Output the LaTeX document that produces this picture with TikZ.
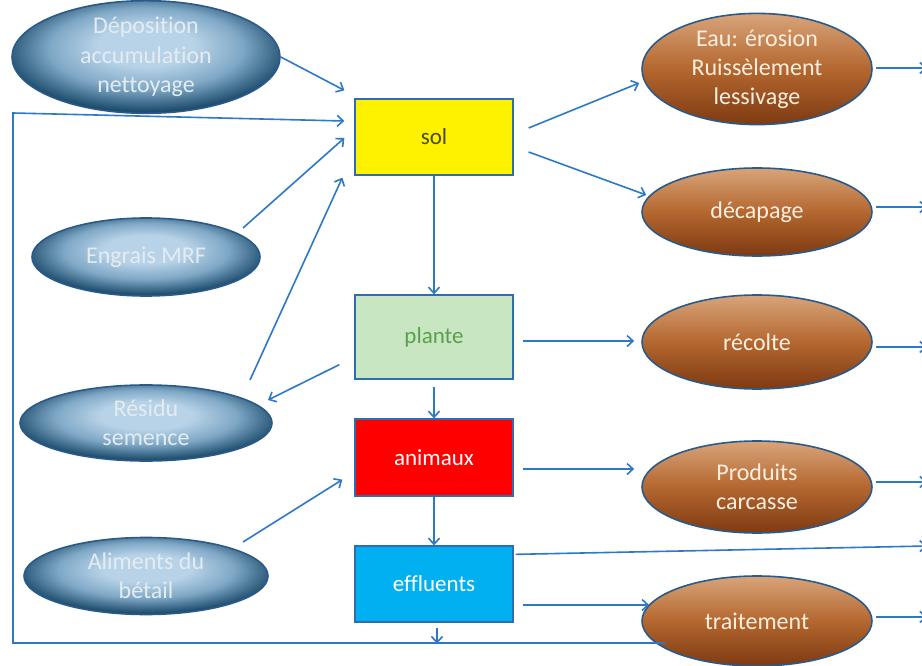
\documentclass[tikz,border=0pt]{standalone}
\usepackage{fontspec}
\setmainfont{Carlito}[Ligatures={NoCommon}]
\usetikzlibrary{shapes.geometric,arrows.meta,calc}
\definecolor{conn}{HTML}{2E78C8}
\definecolor{boxb}{HTML}{2F6DB0}
\definecolor{ellb}{HTML}{2A5A8A}
\definecolor{bluein}{HTML}{B8D3E8}
\definecolor{bluemid}{HTML}{7FA8C6}
\definecolor{blueout}{HTML}{1B4A6A}
\definecolor{bluetext}{HTML}{E4ECF2}
\definecolor{brtop}{HTML}{D8A47A}
\definecolor{brmid}{HTML}{B4672F}
\definecolor{brbot}{HTML}{7E3A12}
\definecolor{browntext}{HTML}{FBEFE2}
\definecolor{soltext}{HTML}{4A4A00}
\definecolor{plantefill}{HTML}{C8E6C2}
\definecolor{plantetext}{HTML}{5AA04A}
\definecolor{efffill}{HTML}{00B0F0}
\pgfdeclareradialshading{blueglow}{\pgfpoint{0bp}{6bp}}{%
  color(0bp)=(bluein); color(9bp)=(bluein); color(18bp)=(bluemid); color(27bp)=(blueout); color(50bp)=(blueout)}
\tikzset{
  arr/.style={draw=conn, line width=1.6pt, -{Straight Barb[length=6pt,width=11pt]}},
  box/.style={draw=boxb, line width=1.3pt, minimum width=158pt, minimum height=76pt, inner sep=0pt, font=\fontsize{23}{29}\selectfont},
  blueell/.style={ellipse, draw=ellb, line width=1.6pt, inner sep=0pt, shading=blueglow, text=bluetext, align=center, font=\fontsize{24}{29.5}\selectfont},
  brownell/.style={ellipse, draw=ellb, line width=1.6pt, inner sep=0pt, top color=brtop, bottom color=brbot, middle color=brmid, text=browntext, align=center, font=\fontsize{24}{29}\selectfont},
}
\begin{document}
\begin{tikzpicture}[x=1pt,y=-1pt]
\path[use as bounding box] (0,0) rectangle (922,666);
\clip (0,0) rectangle (922,666);
\fill[white] (0,0) rectangle (922,666);
% boxes
\node[box, fill=yellow, text=soltext] (sol) at (434,137) {sol};
\node[box, fill=plantefill, text=plantetext, minimum height=84pt] (plante) at (434,337) {plante};
\node[box, fill=red, text=white, minimum height=77pt] (anim) at (434,457.5) {animaux};
\node[box, fill=efffill, text=white] (eff) at (434,584) {effluents};
% left ellipses
\node[blueell, minimum width=268pt, minimum height=84pt] (dep) at (146,57) {Déposition\\accumulation\\nettoyage};
\node[blueell, minimum width=228pt, minimum height=78pt] (engrais) at (146,257) {Engrais MRF};
\node[blueell, minimum width=252pt, minimum height=76pt] (residu) at (146,423) {Résidu\\semence};
\node[blueell, minimum width=244pt, minimum height=77pt] (alim) at (146,576) {Aliments du\\bétail};
% right ellipses
\node[brownell, minimum width=230pt, minimum height=94pt] (eau) at (757,69) {Eau: érosion\\Ruissèlement\\lessivage};
\node[brownell, minimum width=230pt, minimum height=88pt] (dec) at (757,212) {décapage};
\node[brownell, minimum width=230pt, minimum height=94pt] (rec) at (757,342) {récolte};
\node[brownell, minimum width=230pt, minimum height=92pt] (prod) at (757,487) {Produits\\carcasse};
\node[brownell, minimum width=230pt, minimum height=90pt] (trait) at (757,621) {traitement};
% free ends
\coordinate (lpA) at ($(trait.center)+(-92,22)$);
\coordinate (lpB) at (13,643);
\coordinate (lpC) at (13,113);
\coordinate (e1) at (927,68);
\coordinate (e2) at (927,207);
\coordinate (e3) at (927,347);
\coordinate (e4) at (927,482);
\coordinate (e5) at (927,546);
\coordinate (e6) at (927,617);
\coordinate (dn) at ($(eff.south)+(3,21)$);
% vertical chain
\draw[arr] (sol.south) -- (plante.north);
\draw[arr] ($(plante.south)+(0,7)$) -- (anim.north);
\draw[arr] (anim.south) -- (eff.north);
\draw[arr] ($(eff.south)+(3,5)$) -- (dn);
% left inputs
\draw[arr] (dep.east) -- ($(sol.north west)+(-10,-8)$);
\draw[arr] (lpA) -- (lpB) -- (lpC) -- ($(sol.west)+(-10,-16)$);
\draw[arr] ($(engrais.center)+(97,-29)$) -- ($(sol.west)+(-10,1)$);
\draw[arr] ($(residu.center)+(104,-43)$) -- ($(sol.south west)+(-12,2)$);
\draw[arr] ($(plante.south west)+(-15,-15)$) -- ($(residu.center)+(122,-23)$);
\draw[arr] ($(alim.center)+(97,-34)$) -- ($(anim.south west)+(-12,-17)$);
% right outputs
\draw[arr] ($(sol.east)+(15,-9)$) -- ($(eau.west)+(-2,14)$);
\draw[arr] ($(sol.east)+(15,15)$) -- ($(dec.west)+(5,-17)$);
\draw[arr] ($(plante.east)+(9,4)$) -- ($(rec.west)+(-7,-1)$);
\draw[arr] ($(anim.east)+(9,11.5)$) -- ($(prod.west)+(-7,-18)$);
\draw[arr] ($(eff.north east)+(2,9)$) -- (e5);
\draw[arr] ($(eff.east)+(9,21)$) -- ($(trait.west)+(8,-16)$);
% to right edge
\draw[arr] ($(eau.east)+(3,-1)$) -- (e1);
\draw[arr] ($(dec.east)+(3,-5)$) -- (e2);
\draw[arr] ($(rec.east)+(3,5)$) -- (e3);
\draw[arr] ($(prod.east)+(3,-5)$) -- (e4);
\draw[arr] ($(trait.east)+(3,-4)$) -- (e6);
\end{tikzpicture}
\end{document}
